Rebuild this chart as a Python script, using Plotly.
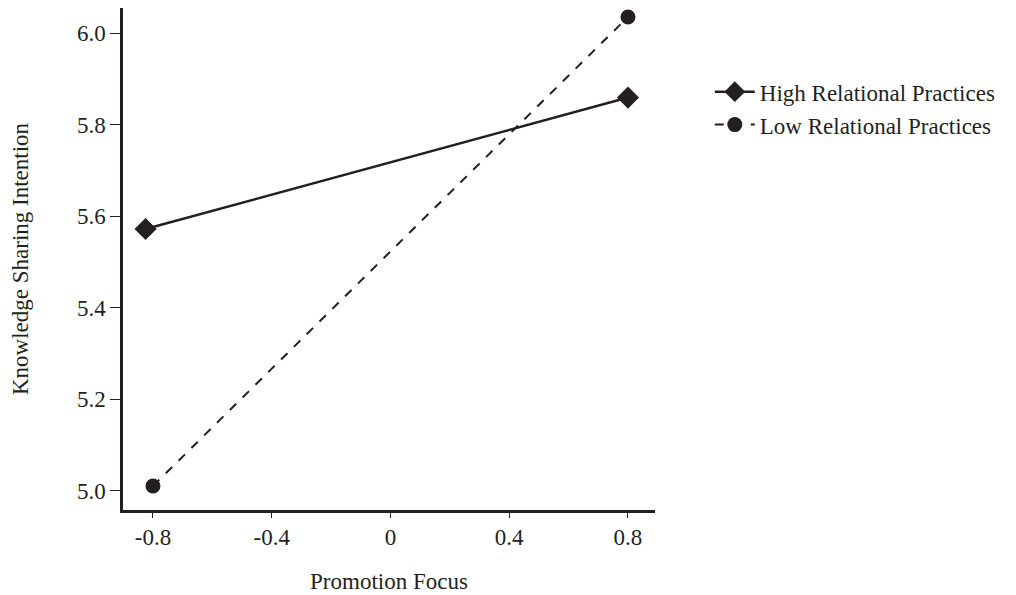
import plotly.graph_objects as go

promotion_focus = [-0.8, 0.8]
high_x = [-0.825, 0.8]
high_values = [5.572, 5.859]
low_values = [5.011, 6.035]
x_ticks = [-0.8, -0.4, 0, 0.4, 0.8]
x_tick_labels = ["-0.8", "-0.4", "0", "0.4", "0.8"]
y_ticks = [5.0, 5.2, 5.4, 5.6, 5.8, 6.0]
y_tick_labels = ["5.0", "5.2", "5.4", "5.6", "5.8", "6.0"]

INK = "#231f20"
FONT = "Liberation Serif, Times New Roman, serif"

fig = go.Figure()
fig.add_trace(go.Scatter(
    x=high_x, y=high_values, mode="lines+markers",
    name="High Relational Practices",
    line=dict(color=INK, width=2.5),
    marker=dict(symbol="diamond", size=17, color=INK),
))
fig.add_trace(go.Scatter(
    x=promotion_focus, y=low_values, mode="lines+markers",
    name="Low Relational Practices",
    line=dict(color=INK, width=2, dash="dash"),
    marker=dict(symbol="circle", size=15, color=INK),
))

fig.update_layout(
    width=1008, height=587,
    margin=dict(l=115, r=361, t=0, b=85),
    paper_bgcolor="white", plot_bgcolor="white",
    font=dict(family=FONT, size=23, color=INK),
    showlegend=True,
    legend=dict(x=1.103, y=0.876, xanchor="left", yanchor="top",
                font=dict(family=FONT, size=23, color=INK),
                bgcolor="rgba(0,0,0,0)", tracegroupgap=0, itemwidth=40),
    xaxis=dict(
        range=[-0.901, 0.891], tickvals=x_ticks, ticktext=x_tick_labels,
        showline=True, linecolor=INK, linewidth=2.5, showgrid=False, zeroline=False,
        ticks="outside", ticklen=5, tickwidth=1, tickcolor=INK,
        tickfont=dict(family=FONT, size=23, color=INK),
        title=dict(text="Promotion Focus", font=dict(family=FONT, size=23, color=INK), standoff=24),
        automargin=False,
    ),
    yaxis=dict(
        range=[4.9585, 6.0546], tickvals=y_ticks, ticktext=y_tick_labels,
        showline=True, linecolor=INK, linewidth=2.5, showgrid=False, zeroline=False,
        ticks="outside", ticklen=10, tickwidth=1, tickcolor=INK,
        tickfont=dict(family=FONT, size=23, color=INK),
        title=dict(text="Knowledge Sharing Intention", font=dict(family=FONT, size=23, color=INK), standoff=48),
        automargin=False,
    ),
)

fig.write_html("out.html")
